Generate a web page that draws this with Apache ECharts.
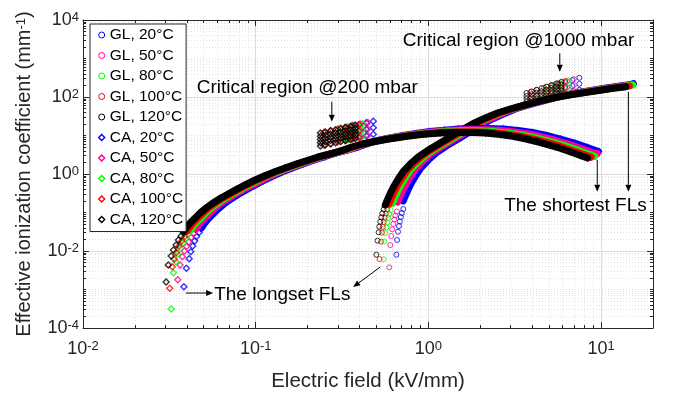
<!DOCTYPE html>
<html>
<head>
<meta charset="utf-8">
<script src="https://cdn.jsdelivr.net/npm/echarts@6/dist/echarts.min.js"></script>
<style>
html,body{margin:0;padding:0;background:#fff}
#chart{width:673px;height:397px}
</style>
</head>
<body>
<div id="chart"></div>
<script>
// Effective ionization coefficient vs electric field along field lines (log-log)
// Values: [E (kV/mm), alpha_eff (1/mm)]

// ---- GL (circles): sparse start, dense band, critical region @1000 mbar ----
const glTail120 = [[0.500,0.0080],[0.508,0.0185],[0.515,0.0306],[0.520,0.0428],[0.527,0.0577],[0.534,0.075],[0.541,0.0953],[0.551,0.121]];
const glBand120 = [[0.563,0.157],[0.576,0.202],[0.602,0.315],[0.629,0.468],[0.673,0.773],[0.716,1.16],[0.787,1.82],[0.875,2.77],[1.00,4.20],[1.17,6.38],[1.38,10.0],[1.60,14.8],[1.82,20.5],[2.14,28.5],[2.51,38.4],[2.99,48.8],[3.51,60.1],[4.17,74.1],[4.96,88.7],[5.82,103],[6.93,117],[8.24,132],[9.93,150],[11.8,168],[13.9,185]];
const glCrit120 = [
  [3.70,127],[3.96,140],[4.23,154],[4.52,169],[4.83,186],[5.16,205],[5.52,225],[5.90,248],
  [3.70,106],[3.96,117],[4.23,129],[4.52,141],[4.83,155],[5.16,171],[5.52,188],[5.90,207],
  [3.70,88.8],[3.96,97.9],[4.23,108],[4.52,118],[4.83,130],[5.16,143],[5.52,157],[5.90,173],
  [3.70,74.2],[3.96,81.8],[4.23,89.9],[4.52,98.7],[4.83,109],[5.16,120],[5.52,131],[5.90,145],
  [3.70,62.0],[3.96,68.3],[4.23,75.2],[4.52,82.5],[4.83,90.8],[5.16,100],[5.52,110],[5.90,121]];

const glTail100 = [[0.522,0.00619],[0.532,0.0175],[0.539,0.0299],[0.545,0.042],[0.552,0.0567],[0.559,0.0741],[0.567,0.0942],[0.578,0.120]];
const glBand100 = [[0.591,0.165],[0.605,0.212],[0.632,0.331],[0.660,0.491],[0.707,0.812],[0.752,1.22],[0.826,1.91],[0.919,2.91],[1.05,4.41],[1.23,6.70],[1.45,10.5],[1.68,15.5],[1.91,21.5],[2.25,29.9],[2.64,40.3],[3.14,51.2],[3.69,63.1],[4.38,77.8],[5.21,93.1],[6.11,108],[7.28,123],[8.65,139],[10.4,158],[12.4,176],[14.6,194]];
const glCrit100 = [[3.89,133],[4.26,152],[4.68,174],[5.15,200],[5.64,227],[6.20,260],[3.89,93.1],[4.26,106],[4.68,122],[5.15,140],[5.64,159],[6.20,182],[3.89,65.1],[4.26,74.3],[4.68,85.1],[5.15,97.3],[5.64,110],[6.20,127]];

const glTail80 = [[0.551,0.00608],[0.556,0.0175],[0.563,0.0294],[0.571,0.0408],[0.578,0.055],[0.586,0.0719],[0.594,0.0914],[0.606,0.116]];
const glBand80 = [[0.619,0.173],[0.634,0.222],[0.662,0.347],[0.692,0.515],[0.740,0.850],[0.788,1.28],[0.866,2.00],[0.963,3.05],[1.10,4.62],[1.29,7.02],[1.52,11.0],[1.76,16.3],[2.00,22.6],[2.35,31.4],[2.76,42.2],[3.29,53.7],[3.86,66.1],[4.59,81.5],[5.46,97.6],[6.40,113],[7.62,129],[9.06,145],[10.9,165],[13.0,185],[15.3,204]];
const glCrit80 = [[4.91,183],[5.39,209],[5.91,238],[6.49,273],[4.91,128],[5.39,146],[5.91,166],[6.49,190],[4.91,89.1],[5.39,102],[5.91,116],[6.49,133]];

const glTail50 = [[0.594,0.00378],[0.602,0.0143],[0.610,0.0245],[0.618,0.0366],[0.627,0.0503],[0.635,0.0658],[0.644,0.0836],[0.657,0.106]];
const glBand50 = [[0.664,0.185],[0.680,0.238],[0.710,0.372],[0.742,0.552],[0.794,0.912],[0.845,1.37],[0.929,2.15],[1.03,3.27],[1.18,4.96],[1.38,7.53],[1.63,11.8],[1.89,17.5],[2.15,24.2],[2.53,33.6],[2.96,45.3],[3.53,57.6],[4.14,70.9],[4.92,87.4],[5.85,105],[6.87,122],[8.18,138],[9.72,156],[11.7,177],[13.9,198],[15.1,212]];
const glCrit50 = [[5.26,196],[5.78,224],[6.34,255],[6.96,293],[5.26,137],[5.78,157],[6.34,178],[6.96,204],[5.26,95.6],[5.78,109],[6.34,124],[6.96,143]];

const glTail20 = [[0.653,0.0080],[0.659,0.0193],[0.667,0.0317],[0.676,0.0446],[0.684,0.0584],[0.693,0.0764],[0.702,0.097],[0.716,0.123]];
const glBand20 = [[0.715,0.199],[0.732,0.257],[0.765,0.400],[0.799,0.594],[0.855,0.982],[0.909,1.47],[1.00,2.31],[1.11,3.52],[1.27,5.33],[1.49,8.10],[1.75,12.7],[2.03,18.8],[2.31,26.0],[2.72,36.2],[3.19,48.8],[3.80,62.0],[4.46,76.3],[5.30,94.1],[6.30,113],[7.39,131],[8.80,149],[10.5,168],[12.6,191],[15.0,213],[15.4,222]];
const glCrit20 = [[5.66,211],[6.22,241],[6.82,274],[7.49,315],[5.66,147],[6.22,169],[6.82,192],[7.49,220],[5.66,103],[6.22,118],[6.82,133],[7.49,154]];

// ---- CA (diamonds): sparse start, dense band, critical region @200 mbar ----
const caTail120 = [[0.0303,0.00157],[0.0312,0.00433],[0.0324,0.00741],[0.0334,0.0106],[0.0346,0.0143],[0.0357,0.0193],[0.0370,0.0245]];
const caBand120 = [[0.0382,0.0312],[0.0395,0.0395],[0.0417,0.0533],[0.0446,0.0719],[0.0477,0.097],[0.0516,0.131],[0.0567,0.177],[0.0622,0.231],[0.0693,0.303],[0.0771,0.395],[0.0869,0.518],[0.098,0.678],[0.112,0.887],[0.128,1.13],[0.148,1.43],[0.172,1.82],[0.199,2.24],[0.230,2.77],[0.267,3.30],[0.309,3.95],[0.353,4.88],[0.404,5.84],[0.473,6.78],[0.563,7.87],[0.670,8.87],[0.807,10.0],[0.973,10.9],[1.17,11.6],[1.43,12.0],[1.75,12.0],[2.14,11.6],[2.61,10.6],[3.15,9.42],[3.80,7.87],[4.58,6.38],[5.52,5.02],[6.57,3.84],[7.60,3.03],[8.35,2.61]];
const caCrit120 = [
  [0.237,11.6],[0.253,12.4],[0.271,13.2],[0.290,14.1],[0.310,15.1],[0.331,16.1],[0.354,17.2],[0.378,18.4],
  [0.237,9.55],[0.253,10.2],[0.271,10.9],[0.290,11.6],[0.310,12.4],[0.331,13.3],[0.354,14.2],[0.378,15.1],
  [0.237,7.86],[0.253,8.39],[0.271,8.94],[0.290,9.55],[0.310,10.2],[0.331,10.9],[0.354,11.6],[0.378,12.5],
  [0.237,6.47],[0.253,6.92],[0.271,7.37],[0.290,7.87],[0.310,8.43],[0.331,8.98],[0.354,9.60],[0.378,10.3],
  [0.237,5.32],[0.253,5.69],[0.271,6.06],[0.290,6.47],[0.310,6.93],[0.331,7.39],[0.354,7.89],[0.378,8.45]];

const caTail100 = [[0.0318,0.00107],[0.0329,0.00391],[0.0338,0.00608],[0.0347,0.00914],[0.0360,0.0135],[0.0373,0.0182],[0.0388,0.0238]];
const caBand100 = [[0.0401,0.0328],[0.0415,0.0415],[0.0438,0.0560],[0.0468,0.0755],[0.0501,0.102],[0.0542,0.138],[0.0595,0.186],[0.0653,0.243],[0.0728,0.318],[0.0810,0.415],[0.0912,0.544],[0.103,0.712],[0.118,0.931],[0.134,1.19],[0.155,1.50],[0.181,1.91],[0.209,2.35],[0.242,2.91],[0.280,3.47],[0.324,4.15],[0.371,5.12],[0.424,6.13],[0.497,7.12],[0.591,8.26],[0.704,9.31],[0.847,10.5],[1.02,11.4],[1.23,12.2],[1.50,12.6],[1.84,12.6],[2.25,12.2],[2.74,11.1],[3.31,9.89],[3.99,8.26],[4.81,6.70],[5.80,5.27],[6.90,4.03],[7.98,3.18],[8.77,2.74]];
const caCrit100 = [[0.249,12.2],[0.273,13.3],[0.299,14.7],[0.329,16.1],[0.361,17.6],[0.397,19.3],[0.249,8.25],[0.273,9.04],[0.299,9.96],[0.329,10.9],[0.361,12.0],[0.397,13.1],[0.249,5.61],[0.273,6.13],[0.299,6.76],[0.329,7.39],[0.361,8.12],[0.397,8.88]];

const caTail80 = [[0.0324,0.000312],[0.0334,0.00273],[0.0345,0.00527],[0.0354,0.00836],[0.0367,0.0120],[0.0380,0.0161],[0.0393,0.0211],[0.0406,0.0268]];
const caBand80 = [[0.0420,0.0343],[0.0435,0.0435],[0.0459,0.0586],[0.0491,0.0791],[0.0525,0.107],[0.0568,0.144],[0.0624,0.195],[0.0684,0.254],[0.0762,0.333],[0.0848,0.435],[0.0956,0.570],[0.108,0.746],[0.123,0.976],[0.141,1.24],[0.163,1.57],[0.189,2.00],[0.219,2.46],[0.253,3.05],[0.294,3.63],[0.340,4.35],[0.388,5.37],[0.444,6.42],[0.520,7.46],[0.619,8.66],[0.737,9.76],[0.888,11.0],[1.07,12.0],[1.29,12.8],[1.57,13.2],[1.93,13.2],[2.35,12.8],[2.87,11.7],[3.47,10.4],[4.18,8.66],[5.04,7.02],[6.07,5.52],[7.23,4.22],[8.36,3.33],[9.19,2.87]];
const caCrit80 = [[0.314,15.4],[0.344,16.8],[0.378,18.5],[0.416,20.2],[0.314,10.4],[0.344,11.4],[0.378,12.5],[0.416,13.8],[0.314,7.08],[0.344,7.74],[0.378,8.50],[0.416,9.31]];

const caTail50 = [[0.0354,0.00180],[0.0365,0.00433],[0.0376,0.00711],[0.0387,0.0100],[0.0398,0.0131],[0.0410,0.0171],[0.0423,0.0224],[0.0437,0.0288]];
const caBand50 = [[0.0451,0.0368],[0.0466,0.0466],[0.0492,0.0629],[0.0526,0.0848],[0.0563,0.114],[0.0609,0.155],[0.0669,0.209],[0.0734,0.273],[0.0818,0.358],[0.0910,0.466],[0.103,0.611],[0.116,0.800],[0.132,1.05],[0.151,1.33],[0.175,1.69],[0.203,2.15],[0.235,2.64],[0.271,3.27],[0.315,3.89],[0.365,4.66],[0.417,5.76],[0.477,6.89],[0.558,8.00],[0.664,9.29],[0.791,10.5],[0.952,11.8],[1.15,12.9],[1.38,13.7],[1.69,14.2],[2.07,14.2],[2.53,13.7],[3.08,12.5],[3.72,11.1],[4.48,9.29],[5.40,7.53],[6.51,5.92],[7.75,4.53],[8.97,3.58],[9.5,3.4]];
const caCrit50 = [[0.336,16.5],[0.369,18.1],[0.406,19.8],[0.446,21.7],[0.336,11.2],[0.369,12.3],[0.406,13.5],[0.446,14.8],[0.336,7.60],[0.369,8.31],[0.406,9.12],[0.446,9.98]];

const caTail20 = [[0.0384,0.00118],[0.0397,0.00356],[0.0412,0.00631],[0.0421,0.0096],[0.0432,0.0135],[0.0443,0.0182],[0.0455,0.0238],[0.0470,0.0303]];
const caBand20 = [[0.0485,0.0396],[0.0502,0.0502],[0.0530,0.0677],[0.0566,0.0913],[0.0606,0.123],[0.0655,0.166],[0.0720,0.225],[0.0790,0.293],[0.0880,0.385],[0.0979,0.502],[0.110,0.658],[0.124,0.861],[0.142,1.13],[0.163,1.44],[0.188,1.82],[0.218,2.31],[0.253,2.84],[0.292,3.52],[0.339,4.19],[0.392,5.02],[0.448,6.20],[0.513,7.42],[0.601,8.61],[0.715,10.0],[0.851,11.3],[1.02,12.7],[1.24,13.8],[1.49,14.7],[1.82,15.2],[2.22,15.2],[2.72,14.7],[3.31,13.5],[4.00,12.0],[4.83,10.0],[5.82,8.10],[7.01,6.38],[8.34,4.88],[9.65,3.85]];
const caCrit20 = [[0.362,17.8],[0.398,19.4],[0.437,21.3],[0.480,23.4],[0.362,12.1],[0.398,13.2],[0.437,14.5],[0.480,15.9],[0.362,8.18],[0.398,8.94],[0.437,9.82],[0.480,10.7]];

// ---- axis ticks ----
const xMajorTicks = [0.01, 0.1, 1, 10];
const yMajorTicks = [1e-4, 1e-2, 1, 1e2, 1e4];
const minorMultipliers = [2, 3, 4, 5, 6, 7, 8, 9];
const xDecadeStarts = [0.01, 0.1, 1, 10];
const yDecadeStarts = [1e-4, 1e-3, 1e-2, 1e-1, 1, 10, 100, 1000];
const yOddDecades = [1e-3, 1e-1, 10, 1000];

// ---- annotations (data coordinates) ----
const noteTexts = [
  { text: 'Critical region @200 mbar', at: [0.199, 175], align: 'center' },
  { text: 'Critical region @1000 mbar', at: [3.33, 2850], align: 'center' },
  { text: 'The longset FLs', at: [0.0575, 7.2e-4], align: 'left' },
  { text: 'The shortest FLs', at: [7.11, 0.148], align: 'center' }
];
const noteArrows = [
  { from: [0.276, 75.5], to: [0.276, 22.8] },
  { from: [5.77, 1365], to: [5.77, 454] },
  { from: [0.0395, 8.1e-4], to: [0.0567, 8.1e-4] },
  { from: [0.527, 3.84e-3], to: [0.367, 1.16e-3] },
  { from: [9.51, 2.31], to: [9.51, 0.347] },
  { from: [14.4, 137], to: [14.4, 0.347] }
];

const FONT = "'Liberation Sans', Arial, Helvetica, sans-serif";
const INK = '#262626';

const seriesDefs = [
  { name: 'GL, 20°C',  kind: 'GL', color: '#0000ff', tail: glTail20,  band: glBand20,  crit: glCrit20 },
  { name: 'GL, 50°C',  kind: 'GL', color: '#ff0099', tail: glTail50,  band: glBand50,  crit: glCrit50 },
  { name: 'GL, 80°C',  kind: 'GL', color: '#00ff00', tail: glTail80,  band: glBand80,  crit: glCrit80 },
  { name: 'GL, 100°C', kind: 'GL', color: '#ff0000', tail: glTail100, band: glBand100, crit: glCrit100 },
  { name: 'GL, 120°C', kind: 'GL', color: '#000000', tail: glTail120, band: glBand120, crit: glCrit120 },
  { name: 'CA, 20°C',  kind: 'CA', color: '#0000ff', tail: caTail20,  band: caBand20,  crit: caCrit20 },
  { name: 'CA, 50°C',  kind: 'CA', color: '#ff0099', tail: caTail50,  band: caBand50,  crit: caCrit50 },
  { name: 'CA, 80°C',  kind: 'CA', color: '#00ff00', tail: caTail80,  band: caBand80,  crit: caCrit80 },
  { name: 'CA, 100°C', kind: 'CA', color: '#ff0000', tail: caTail100, band: caBand100, crit: caCrit100 },
  { name: 'CA, 120°C', kind: 'CA', color: '#000000', tail: caTail120, band: caBand120, crit: caCrit120 }
];

function minorValues(starts, max) {
  const out = [];
  starts.forEach(d => minorMultipliers.forEach(m => {
    const v = +(m * d).toPrecision(6);
    if (v < max) out.push(v);
  }));
  return out;
}
const xMinorTicks = minorValues(xDecadeStarts, 20);
const yMinorTicks = minorValues(yDecadeStarts, 1e4).concat(yOddDecades);

function powLabel(v) {
  const e = Math.log10(v);
  const r = Math.round(e);
  if (Math.abs(e - r) > 1e-6) return '';
  return '{b|10}{s|' + r + '}';
}
const tickRich = {
  b: { fontFamily: FONT, fontSize: 18, color: INK, lineHeight: 18, verticalAlign: 'bottom' },
  s: { fontFamily: FONT, fontSize: 13, color: INK, lineHeight: 13, verticalAlign: 'top', padding: [0, 0, 9, 0] }
};

function logAxis(dim, pos, major) {
  const isX = dim === 'x';
  return {
    type: 'log', logBase: 10, position: pos, offset: 0,
    min: isX ? 0.01 : 1e-4, max: isX ? 20 : 1e4,
    interval: isX ? 1 : 2,
    silent: true,
    axisLine: { show: major, onZero: false, lineStyle: { color: INK, width: 1 } },
    axisTick: {
      show: true, inside: true, length: major ? 6 : 3,
      lineStyle: { color: INK, width: 1 },
      customValues: major ? (isX ? xMajorTicks : yMajorTicks) : (isX ? xMinorTicks : yMinorTicks)
    },
    axisLabel: { show: false },
    splitLine: { show: false },
    minorTick: { show: false },
    minorSplitLine: { show: false }
  };
}

// bottom / left main axes with labels and grid
const xMain = logAxis('x', 'bottom', true);
xMain.axisLabel = { show: true, margin: 12, formatter: powLabel, rich: tickRich, customValues: xMajorTicks, showMinLabel: true, showMaxLabel: true };
xMain.splitLine = { show: true, lineStyle: { color: '#dcdcdc', width: 1 } };
xMain.name = 'Electric field (kV/mm)';
xMain.nameLocation = 'middle';
xMain.nameGap = 43;
xMain.nameTextStyle = { fontFamily: FONT, fontSize: 20.5, color: INK };

const xMinor = logAxis('x', 'bottom', false);
xMinor.splitLine = { show: true, lineStyle: { color: '#e4e4e4', width: 1, type: [1, 2] } };

const yMain = logAxis('y', 'left', true);
yMain.axisLabel = { show: true, margin: 4, formatter: powLabel, rich: tickRich, customValues: yMajorTicks, showMinLabel: true, showMaxLabel: true };
yMain.splitLine = { show: true, lineStyle: { color: '#dcdcdc', width: 1 } };
yMain.name = '{t|Effective ionization coefficient (mm}{s|-1}{t|)}';
yMain.nameLocation = 'middle';
yMain.nameGap = 44;
yMain.nameTextStyle = {
  fontFamily: FONT, fontSize: 20, color: INK,
  rich: {
    t: { fontFamily: FONT, fontSize: 20, color: INK, lineHeight: 20, verticalAlign: 'bottom' },
    s: { fontFamily: FONT, fontSize: 13, color: INK, lineHeight: 13, verticalAlign: 'top', padding: [0, 0, 9, 0] }
  }
};

const yMinor = logAxis('y', 'left', false);
yMinor.splitLine = { show: true, lineStyle: { color: '#e4e4e4', width: 1, type: [1, 2] } };

const series = [];
seriesDefs.forEach(d => {
  const isGL = d.kind === 'GL';
  // dense part of the field line: overlapping markers form a solid band
  series.push({
    type: 'line', name: d.name, data: d.band, xAxisIndex: 0, yAxisIndex: 0,
    showSymbol: false, silent: true, smooth: false,
    lineStyle: { color: d.color, width: 7, cap: 'round', join: 'round' },
    itemStyle: { color: d.color }, emphasis: { disabled: true }
  });
  // every sampled point as a hollow marker
  series.push({
    type: 'scatter', name: d.name, xAxisIndex: 0, yAxisIndex: 0,
    data: d.tail.concat(d.band, d.crit),
    symbol: isGL ? 'circle' : 'diamond', symbolSize: isGL ? 5 : 6,
    silent: true, emphasis: { disabled: true },
    itemStyle: { color: 'rgba(0,0,0,0)', borderColor: d.color, borderWidth: isGL ? 1 : 1.4 }
  });
});

const option = {
  animation: false,
  backgroundColor: '#fff',
  textStyle: { fontFamily: FONT },
  grid: { left: 83, right: 20, top: 20, bottom: 69, containLabel: false, outerBoundsMode: 'none' },
  xAxis: [xMain, xMinor, logAxis('x', 'top', true), logAxis('x', 'top', false)],
  yAxis: [yMain, yMinor, logAxis('y', 'right', true), logAxis('y', 'right', false)],
  legend: {
    orient: 'vertical', left: 90, top: 24,
    padding: [3, 3, 4, 8], itemGap: 4.5, itemWidth: 6, itemHeight: 6, itemTextGap: 8.5,
    backgroundColor: '#fff', borderColor: INK, borderWidth: 1, borderRadius: 0,
    selectedMode: false,
    textStyle: { fontFamily: FONT, fontSize: 15.5, color: '#000', lineHeight: 15 },
    data: seriesDefs.map(d => ({
      name: d.name,
      icon: d.kind === 'GL' ? 'circle' : 'diamond',
      itemStyle: { color: '#fff', borderColor: d.color, borderWidth: d.kind === 'GL' ? 1 : 1.4 }
    }))
  },
  series: series
};

const chart = echarts.init(document.getElementById('chart'), null, { renderer: 'canvas' });
chart.setOption(option);

// annotations placed through the axes' own scales
const toPx = p => chart.convertToPixel({ xAxisIndex: 0, yAxisIndex: 0 }, p);
const graphics = [];
noteTexts.forEach(n => {
  const p = toPx(n.at);
  graphics.push({
    type: 'text', x: p[0], y: p[1], z: 20, silent: true,
    style: { text: n.text, font: '19px ' + FONT, fill: '#000',
      textAlign: n.align, textVerticalAlign: 'middle', align: n.align, verticalAlign: 'middle' }
  });
});
noteArrows.forEach(a => {
  const p0 = toPx(a.from), p1 = toPx(a.to);
  const ang = Math.atan2(p1[1] - p0[1], p1[0] - p0[0]);
  const L = 7, W = 3;
  const bx = p1[0] - L * Math.cos(ang), by = p1[1] - L * Math.sin(ang);
  graphics.push({ type: 'line', z: 20, silent: true,
    shape: { x1: p0[0], y1: p0[1], x2: bx, y2: by }, style: { stroke: '#000', lineWidth: 1 } });
  graphics.push({ type: 'polygon', z: 20, silent: true,
    shape: { points: [[p1[0], p1[1]], [bx + W * Math.sin(ang), by - W * Math.cos(ang)], [bx - W * Math.sin(ang), by + W * Math.cos(ang)]] },
    style: { fill: '#000' } });
});
chart.setOption({ graphic: graphics });
</script>
</body>
</html>
